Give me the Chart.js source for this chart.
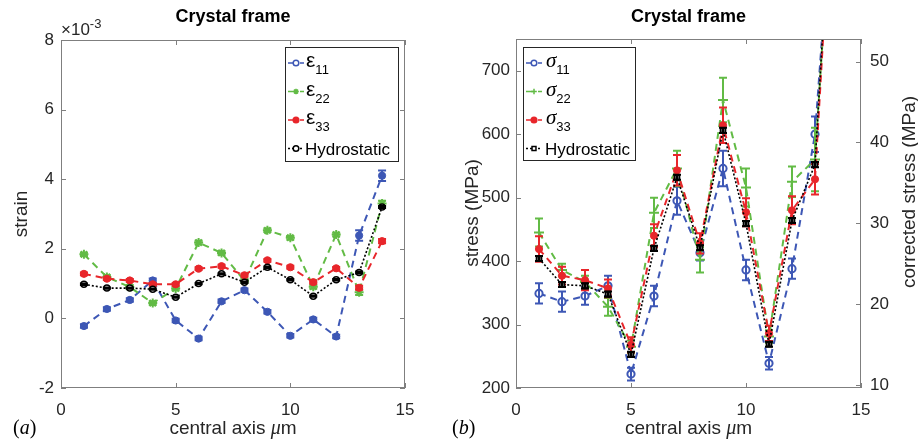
<!DOCTYPE html>
<html>
<head>
<meta charset="utf-8">
<script src="https://cdn.jsdelivr.net/npm/chart.js@4.4.1/dist/chart.umd.min.js"></script>
<style>
  body { margin: 0; background: #fff; }
  #wrap { position: relative; width: 918px; height: 444px; }
  canvas { position: absolute; top: 0; }
  #strainChart { left: 0; }
  #stressChart { left: 440px; }
</style>
</head>
<body>
<div id="wrap">
  <canvas id="strainChart" width="459" height="444"></canvas>
  <canvas id="stressChart" width="478" height="444"></canvas>
</div>
<script>
// positions along the central axis (um)
const positions = [1, 2, 3, 4, 5, 6, 7, 8, 9, 10, 11, 12, 13, 14];

// strain, in units of 1e-3
const strain11 = [-0.22, 0.27, 0.53, 1.09, -0.06, -0.58, 0.49, 0.81, 0.19, -0.50, -0.03, -0.52, 2.38, 4.10];
const strain22 = [1.84, 1.19, 0.90, 0.44, 0.86, 2.18, 1.88, 1.08, 2.53, 2.32, 0.91, 2.41, 0.75, 3.30];
const strain33 = [1.28, 1.14, 1.09, 0.98, 0.98, 1.43, 1.50, 1.24, 1.67, 1.47, 1.04, 1.44, 0.88, 2.22];
const strainHyd = [0.98, 0.87, 0.87, 0.84, 0.61, 1.00, 1.28, 1.04, 1.47, 1.11, 0.64, 1.11, 1.32, 3.20];
const strain11Err = [0.05, 0.05, 0.05, 0.06, 0.05, 0.05, 0.05, 0.05, 0.05, 0.05, 0.05, 0.05, 0.15, 0.15];
const strain22Err = [0.05, 0.05, 0.05, 0.05, 0.05, 0.05, 0.05, 0.05, 0.05, 0.05, 0.05, 0.05, 0.08, 0.08];
const strain33Err = [0.04, 0.04, 0.04, 0.04, 0.04, 0.04, 0.04, 0.04, 0.04, 0.04, 0.04, 0.04, 0.06, 0.06];
const strainHydErr = [0.02, 0.02, 0.02, 0.02, 0.02, 0.02, 0.02, 0.02, 0.02, 0.02, 0.02, 0.02, 0.03, 0.03];

// stress, MPa
const stress11 = [349, 336, 345, 361, 222, 345, 495, 413, 546, 386, 239, 388, 600, 1100];
const stress22 = [445, 386, 367, 328, 265, 476, 546, 402, 654, 516, 281, 525, 560, 1130];
const stress33 = [419, 377, 370, 357, 268, 440, 543, 428, 614, 477, 286, 480, 529, 1160];
const stressHyd = [404, 363, 361, 348, 253, 420, 532, 421, 606, 459, 269, 464, 552, 1172];
const stress11Err = [16, 16, 14, 16, 10, 16, 22, 12, 28, 16, 10, 16, 28, 30];
const stress22Err = [22, 10, 10, 14, 10, 24, 28, 20, 35, 30, 10, 24, 50, 50];
const stress33Err = [20, 14, 16, 14, 12, 18, 24, 16, 28, 22, 12, 22, 24, 30];
const stressHydErr = [4, 4, 4, 4, 4, 4, 4, 4, 4, 4, 4, 4, 4, 4];

const xTicks = [0, 5, 10, 15];
const strainTicks = [-2, 0, 2, 4, 6, 8];
const stressTicks = [200, 300, 400, 500, 600, 700];
const correctedTicks = [10, 20, 30, 40, 50];

const BLUE = '#3d57b5';
const GREEN = '#62bb45';
const RED = '#e8262b';
const BLACK = '#000000';
const SANS = "'Liberation Sans', Arial, sans-serif";
const SERIF = "'Liberation Serif', 'Times New Roman', serif";

Chart.defaults.font.family = SANS;
Chart.defaults.color = '#262626';

const pts = (vals) => positions.map((x, i) => ({ x: x, y: vals[i] }));

function series(label, vals, errs, color, style) {
  return Object.assign({
    label: label,
    data: pts(vals),
    errors: errs,
    borderColor: color,
    pointBorderColor: color,
    pointBackgroundColor: color,
    borderWidth: 2,
    borderDash: [7, 5],
    tension: 0,
    pointRadius: 3.6,
    pointBorderWidth: 1,
    pointHoverRadius: 3.6
  }, style);
}

// error bars drawn right after each dataset
const errorBars = {
  id: 'errorBars',
  afterDatasetDraw(chart, args) {
    const ds = chart.data.datasets[args.index];
    if (!ds.errors) return;
    const { ctx, chartArea: a, scales } = chart;
    ctx.save();
    ctx.beginPath();
    ctx.rect(a.left, a.top, a.right - a.left, a.bottom - a.top);
    ctx.clip();
    ctx.strokeStyle = ds.borderColor;
    ctx.lineWidth = 2;
    ctx.setLineDash([]);
    ctx.beginPath();
    ds.data.forEach((p, i) => {
      const e = ds.errors[i];
      const px = scales.x.getPixelForValue(p.x);
      const y1 = scales.y.getPixelForValue(p.y - e);
      const y2 = scales.y.getPixelForValue(p.y + e);
      ctx.moveTo(px, y1); ctx.lineTo(px, y2);
      ctx.moveTo(px - 4, y1); ctx.lineTo(px + 4, y1);
      ctx.moveTo(px - 4, y2); ctx.lineTo(px + 4, y2);
    });
    ctx.stroke();
    ctx.restore();
  }
};

// MATLAB-like box with inward ticks
const frame = {
  id: 'frame',
  afterDraw(chart) {
    const { ctx, chartArea: a, scales } = chart;
    const L = 5;
    ctx.save();
    ctx.strokeStyle = '#7f7f7f';
    ctx.lineWidth = 1;
    ctx.setLineDash([]);
    ctx.strokeRect(a.left + 0.5, a.top + 0.5, a.right - a.left - 1, a.bottom - a.top - 1);
    ctx.beginPath();
    scales.x.ticks.forEach(t => {
      const p = Math.round(scales.x.getPixelForValue(t.value)) + 0.5;
      ctx.moveTo(p, a.bottom); ctx.lineTo(p, a.bottom - L);
      ctx.moveTo(p, a.top); ctx.lineTo(p, a.top + L);
    });
    scales.y.ticks.forEach(t => {
      const p = Math.round(scales.y.getPixelForValue(t.value)) + 0.5;
      ctx.moveTo(a.left, p); ctx.lineTo(a.left + L, p);
      if (!scales.y2) { ctx.moveTo(a.right, p); ctx.lineTo(a.right - L, p); }
    });
    if (scales.y2) {
      scales.y2.ticks.forEach(t => {
        const p = Math.round(scales.y2.getPixelForValue(t.value)) + 0.5;
        ctx.moveTo(a.right, p); ctx.lineTo(a.right - L, p);
      });
    }
    ctx.stroke();
    ctx.restore();
  }
};

function drawParts(ctx, parts, x, y, align) {
  let w = 0;
  parts.forEach(p => { ctx.font = p.font; w += ctx.measureText(p.t).width; });
  let cx = align === 'center' ? x - w / 2 : x;
  ctx.textAlign = 'left';
  parts.forEach(p => {
    ctx.font = p.font;
    ctx.fillText(p.t, cx, y + (p.dy || 0));
    cx += ctx.measureText(p.t).width;
  });
}

// boxed legend inside the axes
const boxLegend = {
  id: 'boxLegend',
  afterDraw(chart, args, opts) {
    const { ctx } = chart;
    const b = opts.box;
    ctx.save();
    ctx.fillStyle = '#fff';
    ctx.fillRect(b.x, b.y, b.w, b.h);
    ctx.strokeStyle = '#262626';
    ctx.lineWidth = 1;
    ctx.strokeRect(b.x + 0.5, b.y + 0.5, b.w, b.h);
    chart.data.datasets.forEach((ds, i) => {
      const ry = b.y + 16 + i * 28.5;
      const sx = b.x + 3;
      ctx.strokeStyle = ds.borderColor;
      ctx.lineWidth = 1.5;
      ctx.setLineDash(ds.borderDash);
      ctx.beginPath();
      ctx.moveTo(sx, ry); ctx.lineTo(sx + 16, ry);
      ctx.stroke();
      ctx.setLineDash([]);
      ctx.fillStyle = ds.legendFill || ds.pointBackgroundColor;
      ctx.strokeStyle = ds.pointBorderColor;
      ctx.lineWidth = 1.5;
      Chart.helpers.drawPoint(ctx, { pointStyle: ds.pointStyle || 'circle', radius: 2.8, borderWidth: 1.5, rotation: 0 }, sx + 8, ry);
      ctx.fillStyle = '#000';
      ctx.textBaseline = 'alphabetic';
      const m = ds.label.match(/^(\D)(\d+)$/);
      if (m) {
        drawParts(ctx, [
          { t: m[1], font: opts.symbolFont, dy: 0 },
          { t: m[2], font: '13px ' + SANS, dy: 7 }
        ], b.x + opts.textOffset, ry + 4, 'left');
      } else {
        ctx.font = '17px ' + SANS;
        ctx.fillText(ds.label, b.x + opts.textOffset - 1, ry + 6);
      }
    });
    ctx.restore();
  }
};

// titles and axis labels
const texts = {
  id: 'texts',
  afterDraw(chart, args, o) {
    const { ctx, chartArea: a } = chart;
    const cx = (a.left + a.right) / 2;
    ctx.save();
    ctx.fillStyle = '#000';
    ctx.textAlign = 'center';
    ctx.textBaseline = 'middle';
    ctx.font = 'bold 18px ' + SANS;
    ctx.fillText(o.title, cx, 17);

    ctx.fillStyle = '#262626';
    ctx.textBaseline = 'alphabetic';
    drawParts(ctx, [
      { t: 'central axis ', font: '19px ' + SANS },
      { t: '\u03bc', font: 'italic 20px ' + SERIF },
      { t: 'm', font: '19px ' + SANS }
    ], cx, 434, 'center');

    ctx.fillStyle = '#000';
    drawParts(ctx, [
      { t: '(', font: '20px ' + SERIF },
      { t: o.panel, font: 'italic 20px ' + SERIF },
      { t: ')', font: '20px ' + SERIF }
    ], o.panelX, 434, 'left');

    ctx.fillStyle = '#262626';
    ctx.textBaseline = 'middle';
    ctx.textAlign = 'center';
    ctx.font = '19px ' + SANS;
    ctx.save();
    ctx.translate(o.yLabelX, o.yLabelY);
    ctx.rotate(-Math.PI / 2);
    ctx.fillText(o.yLabel, 0, 0);
    ctx.restore();
    if (o.y2Label) {
      ctx.save();
      ctx.translate(o.y2LabelX, o.y2LabelY);
      ctx.rotate(-Math.PI / 2);
      ctx.fillText(o.y2Label, 0, 0);
      ctx.restore();
    }
    if (o.exponent) {
      ctx.textBaseline = 'alphabetic';
      drawParts(ctx, [
        { t: '\u00d710', font: '17px ' + SANS },
        { t: '-3', font: '13px ' + SANS, dy: -7 }
      ], a.left, 35, 'left');
    }
    ctx.restore();
  }
};

const tickFont = { size: 17 };
const noGrid = { display: false, drawTicks: false };
const xScale = {
  type: 'linear', min: 0, max: 15,
  afterBuildTicks: s => { s.ticks = xTicks.map(v => ({ value: v })); },
  ticks: { font: tickFont, padding: 12, maxRotation: 0 },
  grid: noGrid, border: { display: false },
  afterFit: s => { s.height = 56; }
};

new Chart(document.getElementById('strainChart'), {
  type: 'line',
  data: {
    datasets: [
      series('\u03b511', strain11, strain11Err, BLUE, { order: 3, legendFill: '#fff' }),
      series('\u03b522', strain22, strain22Err, GREEN, { order: 2, pointStyle: 'star', pointRadius: 4.5, pointBorderWidth: 2 }),
      series('\u03b533', strain33, strain33Err, RED, { order: 1 }),
      series('Hydrostatic', strainHyd, strainHydErr, BLACK, { order: 0, borderDash: [2, 2], borderWidth: 1.6, pointRadius: 3, pointBorderWidth: 1.5, pointBackgroundColor: '#fff' })
    ]
  },
  options: {
    responsive: false,
    animation: false,
    layout: { padding: { top: 40, right: 54, left: 0, bottom: 0 } },
    scales: {
      x: xScale,
      y: {
        min: -2, max: 8,
        afterBuildTicks: s => { s.ticks = strainTicks.map(v => ({ value: v })); },
        ticks: { font: tickFont, padding: 7 },
        grid: noGrid, border: { display: false },
        afterFit: s => { s.width = 61; }
      }
    },
    plugins: {
      legend: { display: false },
      tooltip: { enabled: false },
      boxLegend: { box: { x: 285, y: 47, w: 113, h: 114 }, textOffset: 21, symbolFont: '21px ' + SANS },
      texts: { title: 'Crystal frame', panel: 'a', panelX: 13, yLabel: 'strain', yLabelX: 22, yLabelY: 214, exponent: true }
    }
  },
  plugins: [errorBars, frame, boxLegend, texts]
});

new Chart(document.getElementById('stressChart'), {
  type: 'line',
  data: {
    datasets: [
      series('\u03c311', stress11, stress11Err, BLUE, { order: 3, pointBackgroundColor: '#fff', pointBorderWidth: 2, legendFill: '#fff' }),
      series('\u03c322', stress22, stress22Err, GREEN, { order: 2, pointStyle: 'cross', pointRadius: 5, pointBorderWidth: 2 }),
      series('\u03c333', stress33, stress33Err, RED, { order: 1 }),
      series('Hydrostatic', stressHyd, stressHydErr, BLACK, { order: 0, borderDash: [2, 2], borderWidth: 1.6, pointStyle: 'rect', pointRadius: 3.3, pointBorderWidth: 2, pointBackgroundColor: '#fff' })
    ]
  },
  options: {
    responsive: false,
    animation: false,
    layout: { padding: { top: 39, right: 0, left: 0, bottom: 0 } },
    scales: {
      x: xScale,
      y: {
        min: 200, max: 750,
        afterBuildTicks: s => { s.ticks = stressTicks.map(v => ({ value: v })); },
        ticks: { font: tickFont, padding: 6 },
        grid: noGrid, border: { display: false },
        afterFit: s => { s.width = 76; }
      },
      y2: {
        position: 'right',
        min: 9.62, max: 52.8,
        afterBuildTicks: s => { s.ticks = correctedTicks.map(v => ({ value: v })); },
        ticks: { font: tickFont, padding: 9 },
        grid: noGrid, border: { display: false },
        afterFit: s => { s.width = 57; }
      }
    },
    plugins: {
      legend: { display: false },
      tooltip: { enabled: false },
      boxLegend: { box: { x: 83, y: 47, w: 112, h: 113 }, textOffset: 23, symbolFont: 'italic 21px ' + SERIF },
      texts: { title: 'Crystal frame', panel: 'b', panelX: 12, yLabel: 'stress (MPa)', yLabelX: 33, yLabelY: 213,
               y2Label: 'corrected stress (MPa)', y2LabelX: 470, y2LabelY: 192 }
    }
  },
  plugins: [errorBars, frame, boxLegend, texts]
});
</script>
</body>
</html>
